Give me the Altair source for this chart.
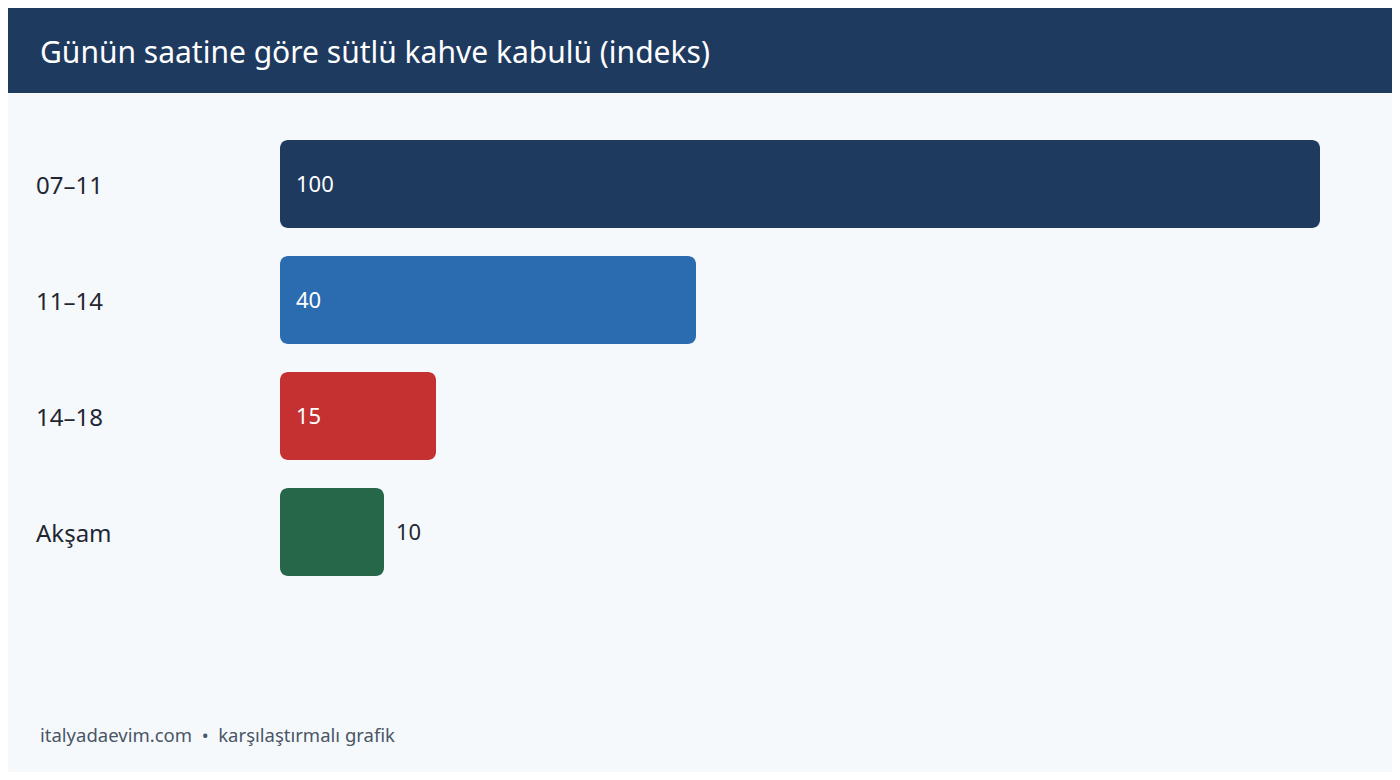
import altair as alt
import pandas as pd

title_text = "Günün saatine göre sütlü kahve kabulü (indeks)"
footer_text = "italyadaevim.com\u00a0\u00a0•\u00a0\u00a0karşılaştırmalı grafik"
categories = ["07–11", "11–14", "14–18", "Akşam"]
values = [100, 40, 15, 10]
colors = ["#1e3a5f", "#2b6cb0", "#c53030", "#276749"]

df = pd.DataFrame({"cat": categories, "value": values, "color": colors})
FONT = "Noto Sans"
W, H = 1384, 764

x_scale = alt.Scale(domain=[0, 100], range=[272, 1312])
y_scale = alt.Scale(domain=categories, range=[132, 568], paddingInner=0.2414, paddingOuter=0)

base = alt.Chart(df)
first = alt.datum.cat == categories[0]

header = base.mark_rect(color="#1e3a5f").encode(
    x=alt.value(0), x2=alt.value(W), y=alt.value(0), y2=alt.value(85)
).transform_filter(first)

title = base.mark_text(
    text=title_text, font=FONT, fontSize=30, color="#ffffff", align="left", baseline="middle"
).encode(x=alt.value(32), y=alt.value(46)).transform_filter(first)

footer = base.mark_text(
    text=footer_text, font=FONT, fontSize=18.5, color="#4a5565", align="left", baseline="middle"
).encode(x=alt.value(32), y=alt.value(728)).transform_filter(first)

bars = base.mark_bar(cornerRadius=8).encode(
    x=alt.X("value:Q", scale=x_scale, axis=None),
    x2=alt.datum(0),
    y=alt.Y("cat:N", scale=y_scale, axis=None, sort=categories),
    color=alt.Color("color:N", scale=None, legend=None),
)

cat_labels = base.mark_text(
    font=FONT, fontSize=24, color="#1f2733", align="left", baseline="middle", dy=3
).encode(
    x=alt.value(28),
    y=alt.Y("cat:N", scale=y_scale, axis=None, sort=categories),
    text="cat:N",
)

inside = base.mark_text(
    font=FONT, fontSize=22, color="#ffffff", align="left", baseline="middle", dx=16, dy=1
).encode(
    x=alt.X("zero:Q", scale=x_scale, axis=None),
    y=alt.Y("cat:N", scale=y_scale, axis=None, sort=categories),
    text="value:Q",
).transform_calculate(zero="0").transform_filter(alt.datum.value > 12)

outside = base.mark_text(
    font=FONT, fontSize=22, color="#1f2733", align="left", baseline="middle", dx=12, dy=1
).encode(
    x=alt.X("value:Q", scale=x_scale, axis=None),
    y=alt.Y("cat:N", scale=y_scale, axis=None, sort=categories),
    text="value:Q",
).transform_filter(alt.datum.value <= 12)

chart = alt.layer(header, title, bars, cat_labels, inside, outside, footer).properties(
    width=W, height=H, autosize=alt.AutoSizeParams(type="none"), padding=0,
    background="#f5f9fc",
).configure_view(stroke=None)

chart.save("out.html", embed_options={"renderer": "svg", "actions": False})
